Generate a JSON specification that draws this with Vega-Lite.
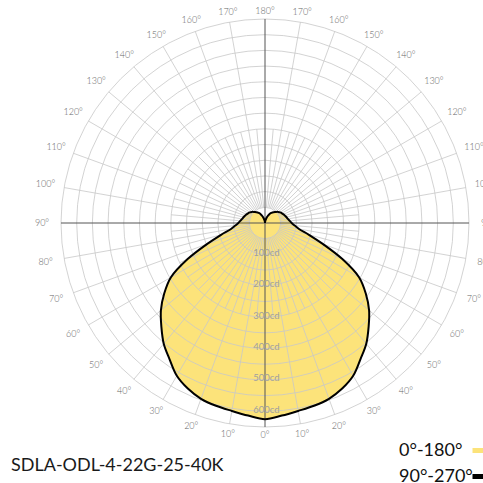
{
  "$schema": "https://vega.github.io/schema/vega-lite/v6.json",
  "width": 408,
  "height": 408,
  "autosize": {"type": "none"},
  "padding": {"left": 61, "top": 19, "right": 14, "bottom": 56},
  "background": "white",
  "config": {"view": {"stroke": null}, "font": "Lato"},
  "title": {
    "text": "SDLA-ODL-4-22G-25-40K",
    "orient": "bottom",
    "anchor": "start",
    "frame": "group",
    "dx": -50,
    "offset": -30,
    "baseline": "top",
    "fontSize": 18,
    "fontWeight": "normal",
    "font": "Lato",
    "color": "#1a1a1a"
  },
  "datasets": {
    "curve": [
      {"a": -180, "cd": 0}, {"a": -175, "cd": 3}, {"a": -170, "cd": 8}, {"a": -165, "cd": 15},
      {"a": -160, "cd": 22}, {"a": -155, "cd": 29}, {"a": -150, "cd": 36}, {"a": -145, "cd": 41},
      {"a": -140, "cd": 45}, {"a": -135, "cd": 50}, {"a": -130, "cd": 55}, {"a": -125, "cd": 59},
      {"a": -120, "cd": 62}, {"a": -115, "cd": 65}, {"a": -110, "cd": 68}, {"a": -105, "cd": 71},
      {"a": -100, "cd": 74}, {"a": -95, "cd": 79}, {"a": -90, "cd": 85}, {"a": -85, "cd": 95},
      {"a": -80, "cd": 110}, {"a": -75, "cd": 145}, {"a": -70, "cd": 197}, {"a": -65, "cd": 272},
      {"a": -60, "cd": 346}, {"a": -55, "cd": 392}, {"a": -50, "cd": 433}, {"a": -45, "cd": 467},
      {"a": -40, "cd": 502}, {"a": -35, "cd": 530}, {"a": -30, "cd": 562}, {"a": -25, "cd": 582},
      {"a": -20, "cd": 596}, {"a": -15, "cd": 603}, {"a": -10, "cd": 608}, {"a": -5, "cd": 616},
      {"a": 0, "cd": 625},
      {"a": 5, "cd": 616}, {"a": 10, "cd": 608}, {"a": 15, "cd": 603}, {"a": 20, "cd": 596},
      {"a": 25, "cd": 582}, {"a": 30, "cd": 562}, {"a": 35, "cd": 530}, {"a": 40, "cd": 502},
      {"a": 45, "cd": 467}, {"a": 50, "cd": 433}, {"a": 55, "cd": 392}, {"a": 60, "cd": 346},
      {"a": 65, "cd": 272}, {"a": 70, "cd": 197}, {"a": 75, "cd": 145}, {"a": 80, "cd": 110},
      {"a": 85, "cd": 95}, {"a": 90, "cd": 85}, {"a": 95, "cd": 79}, {"a": 100, "cd": 74},
      {"a": 105, "cd": 71}, {"a": 110, "cd": 68}, {"a": 115, "cd": 65}, {"a": 120, "cd": 62},
      {"a": 125, "cd": 59}, {"a": 130, "cd": 55}, {"a": 135, "cd": 50}, {"a": 140, "cd": 45},
      {"a": 145, "cd": 41}, {"a": 150, "cd": 36}, {"a": 155, "cd": 29}, {"a": 160, "cd": 22},
      {"a": 165, "cd": 15}, {"a": 170, "cd": 8}, {"a": 175, "cd": 3}, {"a": 180, "cd": 0}
    ],
    "rings": [
      {"r": 50}, {"r": 100}, {"r": 150}, {"r": 200}, {"r": 250}, {"r": 300}, {"r": 350},
      {"r": 400}, {"r": 450}, {"r": 500}, {"r": 550}, {"r": 600}, {"r": 650}
    ],
    "spokes": [
      {"a": -175}, {"a": -170}, {"a": -165}, {"a": -160}, {"a": -155}, {"a": -150}, {"a": -145},
      {"a": -140}, {"a": -135}, {"a": -130}, {"a": -125}, {"a": -120}, {"a": -115}, {"a": -110},
      {"a": -105}, {"a": -100}, {"a": -95}, {"a": -85}, {"a": -80}, {"a": -75}, {"a": -70},
      {"a": -65}, {"a": -60}, {"a": -55}, {"a": -50}, {"a": -45}, {"a": -40}, {"a": -35},
      {"a": -30}, {"a": -25}, {"a": -20}, {"a": -15}, {"a": -10}, {"a": -5},
      {"a": 5}, {"a": 10}, {"a": 15}, {"a": 20}, {"a": 25}, {"a": 30}, {"a": 35}, {"a": 40},
      {"a": 45}, {"a": 50}, {"a": 55}, {"a": 60}, {"a": 65}, {"a": 70}, {"a": 75}, {"a": 80},
      {"a": 85}, {"a": 95}, {"a": 100}, {"a": 105}, {"a": 110}, {"a": 115}, {"a": 120},
      {"a": 125}, {"a": 130}, {"a": 135}, {"a": 140}, {"a": 145}, {"a": 150}, {"a": 155},
      {"a": 160}, {"a": 165}, {"a": 170}, {"a": 175}
    ],
    "axes": [{"a": 0}, {"a": 90}],
    "alabels": [
      {"a": 0}, {"a": 180},
      {"a": -10}, {"a": -20}, {"a": -30}, {"a": -40}, {"a": -50}, {"a": -60}, {"a": -70}, {"a": -80},
      {"a": -90}, {"a": -100}, {"a": -110}, {"a": -120}, {"a": -130}, {"a": -140}, {"a": -150},
      {"a": -160}, {"a": -170},
      {"a": 10}, {"a": 20}, {"a": 30}, {"a": 40}, {"a": 50}, {"a": 60}, {"a": 70}, {"a": 80},
      {"a": 90}, {"a": 100}, {"a": 110}, {"a": 120}, {"a": 130}, {"a": 140}, {"a": 150},
      {"a": 160}, {"a": 170}
    ],
    "cdlabels": [
      {"cd": 100}, {"cd": 200}, {"cd": 300}, {"cd": 400}, {"cd": 500}, {"cd": 600}
    ]
  },
  "layer": [
    {
      "data": {"name": "curve"},
      "transform": [
        {"calculate": "datum.cd*sin(datum.a*PI/180)", "as": "x"},
        {"calculate": "-datum.cd*cos(datum.a*PI/180)", "as": "y"}
      ],
      "mark": {"type": "line", "filled": true, "interpolate": "catmull-rom", "fillOpacity": 1},
      "encoding": {
        "x": {"field": "x", "type": "quantitative", "scale": {"domain": [-650, 650], "nice": false, "zero": false}, "axis": null},
        "y": {"field": "y", "type": "quantitative", "scale": {"domain": [-650, 650], "nice": false, "zero": false}, "axis": null},
        "order": {"field": "a", "type": "quantitative"},
        "color": {
          "datum": "0°-180°",
          "type": "nominal",
          "scale": {"domain": ["0°-180°", "90°-270°"], "range": ["#fce37a", "#000000"]},
          "legend": {
            "title": null,
            "orient": "none",
            "legendX": 338,
            "legendY": 422,
            "padding": 0,
            "labelFont": "Lato",
            "labelFontSize": 18,
            "labelColor": "#111111",
            "symbolType": "stroke",
            "symbolSize": 196,
            "symbolStrokeWidth": 5,
            "symbolOffset": 71,
            "labelOffset": -90,
            "rowPadding": 5,
            "encode": {"symbols": {"update": {"stroke": {"scale": "color", "field": "value"}, "strokeWidth": {"value": 5}, "fill": {"value": "transparent"}}}}
          }
        }
      }
    },
    {
      "data": {"name": "rings"},
      "mark": {"type": "arc", "theta": 0, "theta2": 6.2832, "filled": false, "stroke": "#c8c8c8", "strokeWidth": 0.8},
      "encoding": {
        "radius": {"field": "r", "type": "quantitative", "stack": null, "scale": {"type": "linear", "domain": [0, 650], "range": [0, 204], "zero": true}}
      }
    },
    {
      "data": {"name": "spokes"},
      "transform": [
        {"calculate": "datum.a % 10 == 0 ? 650 : 300", "as": "r1"},
        {"calculate": "50*sin(datum.a*PI/180)", "as": "x1"},
        {"calculate": "-50*cos(datum.a*PI/180)", "as": "y1"},
        {"calculate": "datum.r1*sin(datum.a*PI/180)", "as": "x2"},
        {"calculate": "-datum.r1*cos(datum.a*PI/180)", "as": "y2"}
      ],
      "mark": {"type": "rule", "stroke": "#c8c8c8", "strokeWidth": 0.8},
      "encoding": {
        "x": {"field": "x1", "type": "quantitative", "scale": {"domain": [-650, 650], "nice": false, "zero": false}, "axis": null},
        "y": {"field": "y1", "type": "quantitative", "scale": {"domain": [-650, 650], "nice": false, "zero": false}, "axis": null},
        "x2": {"field": "x2"},
        "y2": {"field": "y2"}
      }
    },
    {
      "data": {"name": "axes"},
      "transform": [
        {"calculate": "-650*sin(datum.a*PI/180)", "as": "x1"},
        {"calculate": "-650*cos(datum.a*PI/180)", "as": "y1"},
        {"calculate": "650*sin(datum.a*PI/180)", "as": "x2"},
        {"calculate": "650*cos(datum.a*PI/180)", "as": "y2"}
      ],
      "mark": {"type": "rule", "stroke": "#555555", "strokeWidth": 1},
      "encoding": {
        "x": {"field": "x1", "type": "quantitative", "scale": {"domain": [-650, 650], "nice": false, "zero": false}, "axis": null},
        "y": {"field": "y1", "type": "quantitative", "scale": {"domain": [-650, 650], "nice": false, "zero": false}, "axis": null},
        "x2": {"field": "x2"},
        "y2": {"field": "y2"}
      }
    },
    {
      "data": {"name": "cdlabels"},
      "transform": [
        {"calculate": "-datum.cd", "as": "y"},
        {"calculate": "datum.cd + 'cd'", "as": "lab"}
      ],
      "mark": {"type": "text", "fontSize": 9.5, "font": "Lato", "color": "#a0a0a0", "align": "center", "baseline": "middle", "dx": 1.5, "dy": -1.5},
      "encoding": {
        "x": {"datum": 0, "type": "quantitative", "scale": {"domain": [-650, 650], "nice": false, "zero": false}, "axis": null},
        "y": {"field": "y", "type": "quantitative", "scale": {"domain": [-650, 650], "nice": false, "zero": false}, "axis": null},
        "text": {"field": "lab"}
      }
    },
    {
      "data": {"name": "curve"},
      "transform": [
        {"calculate": "datum.cd*sin(datum.a*PI/180)", "as": "x"},
        {"calculate": "-datum.cd*cos(datum.a*PI/180)", "as": "y"}
      ],
      "mark": {"type": "line", "interpolate": "catmull-rom", "strokeWidth": 2},
      "encoding": {
        "x": {"field": "x", "type": "quantitative", "scale": {"domain": [-650, 650], "nice": false, "zero": false}, "axis": null},
        "y": {"field": "y", "type": "quantitative", "scale": {"domain": [-650, 650], "nice": false, "zero": false}, "axis": null},
        "order": {"field": "a", "type": "quantitative"},
        "color": {"datum": "90°-270°", "type": "nominal"}
      }
    },
    {
      "data": {"name": "alabels"},
      "transform": [
        {"calculate": "(212 + 11*abs(sin(datum.a*PI/180)))*650/204", "as": "rc"},
        {"calculate": "datum.rc*sin(datum.a*PI/180)", "as": "x"},
        {"calculate": "-datum.rc*cos(datum.a*PI/180)", "as": "y"},
        {"calculate": "abs(datum.a) + '°'", "as": "lab"}
      ],
      "mark": {"type": "text", "fontSize": 9, "font": "Lato", "fontWeight": 300, "color": "#666666", "align": "center", "baseline": "middle"},
      "encoding": {
        "x": {"field": "x", "type": "quantitative", "scale": {"domain": [-650, 650], "nice": false, "zero": false}, "axis": null},
        "y": {"field": "y", "type": "quantitative", "scale": {"domain": [-650, 650], "nice": false, "zero": false}, "axis": null},
        "text": {"field": "lab"}
      }
    }
  ]
}
